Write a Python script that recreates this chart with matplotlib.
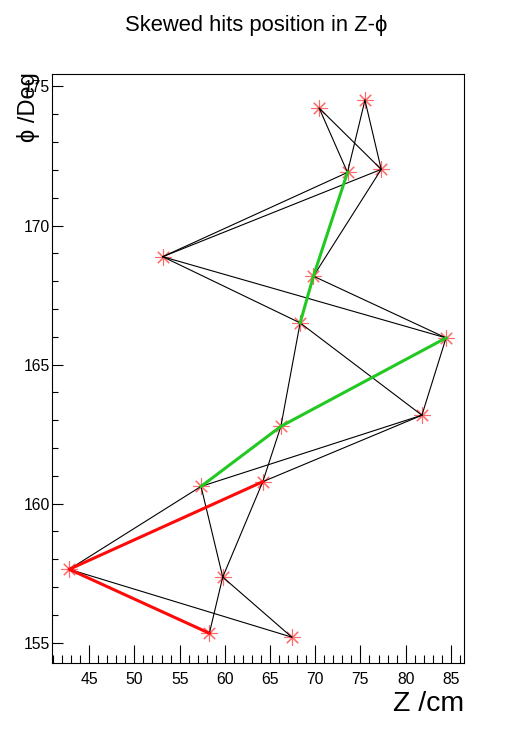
import numpy as np
import matplotlib.pyplot as plt
from matplotlib.ticker import MultipleLocator

plt.rcParams['font.family'] = ['Liberation Sans', 'DejaVu Sans']

# hit positions (Z in cm, phi in degrees)
z = [70.44, 75.5, 73.57, 77.3, 53.13, 69.8, 68.33, 84.47,
     81.8, 66.2, 57.37, 64.2, 42.79, 59.77, 58.29, 67.41]
phi = [174.22, 174.51, 171.91, 172.02, 168.88, 168.18, 166.5, 165.96,
       163.18, 162.78, 160.62, 160.79, 157.64, 157.36, 155.34, 155.2]

# candidate connections between hits
black_edges = [(14, 13), (13, 11), (13, 15), (15, 12), (12, 10), (10, 13),
               (10, 8), (11, 8), (9, 11), (9, 6), (6, 8), (8, 7), (7, 4),
               (7, 5), (4, 6), (4, 2), (4, 3), (5, 3), (2, 0), (2, 1),
               (0, 3), (1, 3)]
green_paths = [[10, 9, 7], [6, 5, 2]]
red_paths = [[14, 12, 11]]

z = np.array(z)
phi = np.array(phi)

fig = plt.figure(figsize=(5.16, 7.37), dpi=100)
ax = fig.add_axes([0.1, 0.1, 0.8, 0.8])

ax.plot(z, phi, linestyle='none', marker=(8, 2, 0), markersize=11.5,
        markeredgewidth=0.8, color='#ff6a6a', zorder=1)

for a, b in black_edges:
    ax.plot(z[[a, b]], phi[[a, b]], color='black', lw=0.8, zorder=2)
for p in green_paths:
    ax.plot(z[p], phi[p], color='#22c922', lw=2.2, zorder=3)
for p in red_paths:
    ax.plot(z[p], phi[p], color='#ff0a0a', lw=2.2, zorder=3)

ax.set_xlim(40.84, 86.5)
ax.set_ylim(154.26, 175.46)

ax.xaxis.set_major_locator(MultipleLocator(5))
ax.xaxis.set_minor_locator(MultipleLocator(1))
ax.yaxis.set_major_locator(MultipleLocator(5))
ax.yaxis.set_minor_locator(MultipleLocator(1))

ax.tick_params(axis='x', which='major', direction='in', length=13, width=0.8,
               labelsize=11.3, pad=6)
ax.tick_params(axis='x', which='minor', direction='in', length=6, width=0.8)
ax.tick_params(axis='y', which='major', direction='in', length=8, width=0.8,
               labelsize=11.3, pad=1)
ax.tick_params(axis='y', which='minor', direction='in', length=4.3, width=0.8)
for s in ax.spines.values():
    s.set_linewidth(0.8)

fig.text(0.497, 0.958, 'Skewed hits position in Z-\u03d5', ha='center',
         va='baseline', fontsize=15.8)
fig.text(0.899, 0.0353, 'Z /cm', ha='right', va='baseline', fontsize=20.5)
fig.text(0.033, 0.902, '\u03d5 /Deg', ha='left', va='top', rotation=90,
         fontsize=17)

fig.savefig('out.png', dpi=100)
